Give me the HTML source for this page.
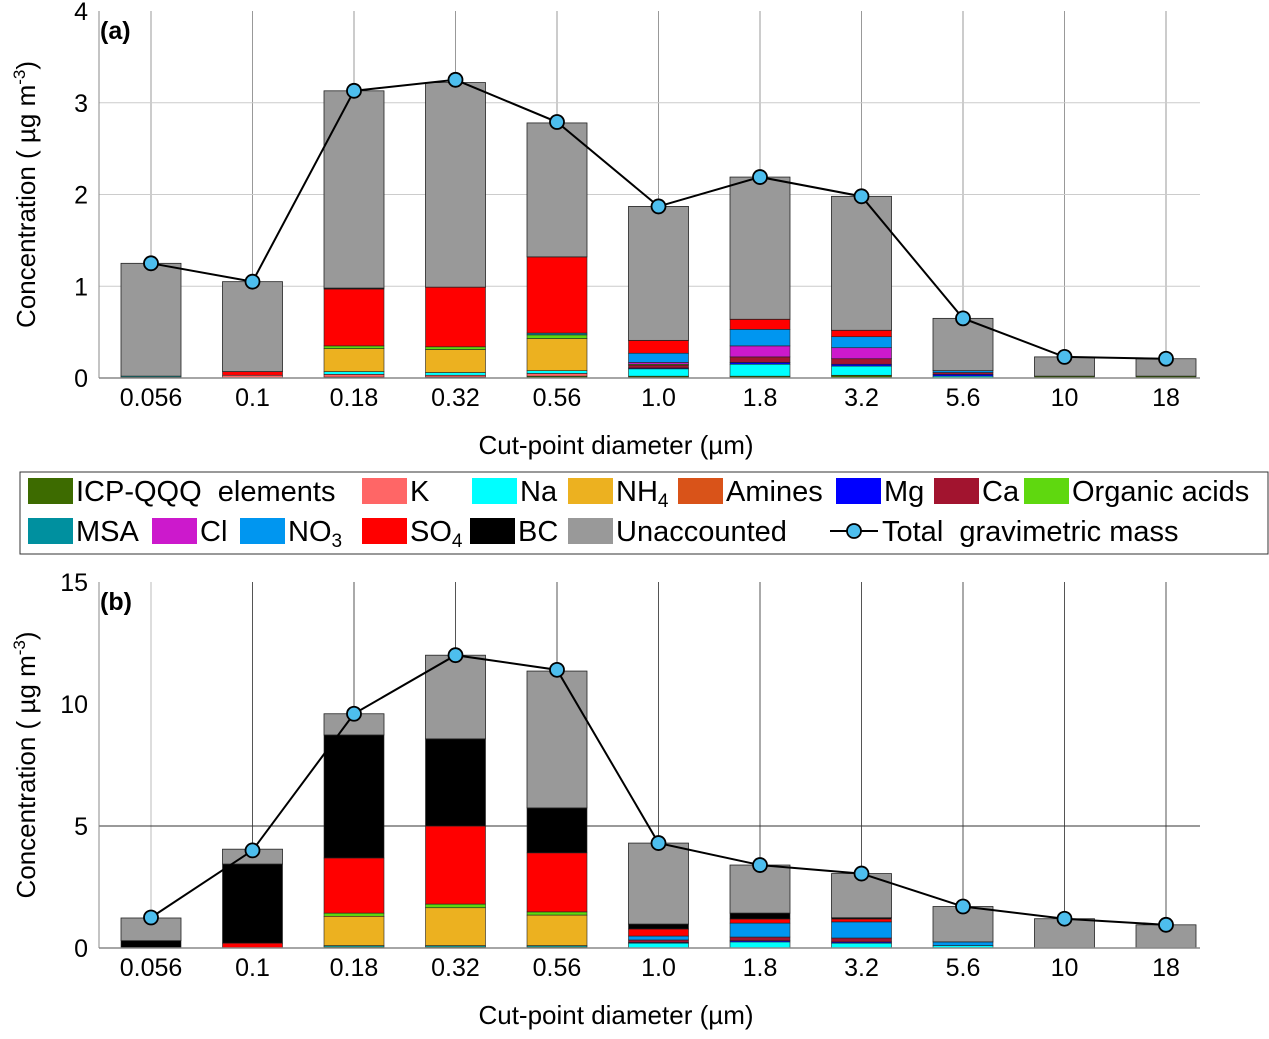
<!DOCTYPE html>
<html><head><meta charset="utf-8"><style>
body{margin:0;background:#fff;font-family:"Liberation Sans",sans-serif;}
svg text{font-family:"Liberation Sans",sans-serif;}
</style></head><body>
<svg id="chart" width="1269" height="1034" viewBox="0 0 1269 1034" xmlns="http://www.w3.org/2000/svg"></svg>
<script>
const categories=["0.056","0.1","0.18","0.32","0.56","1.0","1.8","3.2","5.6","10","18"];
const componentNames=["ICP-QQQ elements","K","Na","NH4","Amines","Mg","Ca","Organic acids","MSA","Cl","NO3","SO4","BC","Unaccounted"];
const componentColors=["#3d6b00","#ff6666","#00ffff","#ecb120","#d95319","#0000ff","#a2142f","#5fd80f","#00909f","#cc19cc","#0096f0","#ff0000","#000000","#999999"];
// panel a component values (rows = components, cols = categories)
const aICP=[0.01,0,0.01,0.01,0.02,0.02,0.02,0.03,0,0.02,0.02];
const aK=[0,0.03,0.03,0.02,0.03,0,0,0,0,0,0];
const aNa=[0.01,0,0.03,0.03,0.03,0.08,0.13,0.1,0.02,0,0];
const aNH4=[0,0,0.25,0.25,0.35,0,0,0,0,0,0];
const aAmines=[0,0,0,0,0,0,0,0,0,0,0];
const aMg=[0,0,0,0,0,0.01,0.02,0.02,0.02,0,0];
const aCa=[0,0,0,0,0,0.03,0.06,0.06,0.02,0,0];
const aOrg=[0,0,0.03,0.03,0.04,0.01,0,0,0,0,0];
const aMSA=[0,0,0,0,0.02,0,0,0,0,0,0];
const aCl=[0,0,0,0,0,0.02,0.12,0.12,0,0,0];
const aNO3=[0,0,0,0,0,0.1,0.18,0.12,0.02,0,0];
const aSO4=[0,0.04,0.62,0.65,0.83,0.14,0.11,0.07,0,0,0];
const aBC=[0,0,0.01,0,0,0,0,0,0,0,0];
const aUnacc=[1.23,0.98,2.15,2.23,1.46,1.46,1.55,1.46,0.57,0.21,0.19];
const aTotal=[1.25,1.05,3.13,3.25,2.79,1.87,2.19,1.98,0.65,0.23,0.21];
// panel b
const bICP=[0,0,0.05,0.05,0.05,0,0,0,0,0,0];
const bK=[0,0,0,0,0,0,0,0,0,0,0];
const bNa=[0,0,0.05,0.05,0.05,0.2,0.25,0.2,0.1,0,0];
const bNH4=[0,0,1.2,1.55,1.25,0,0,0,0,0,0];
const bAmines=[0,0,0,0,0,0,0,0,0,0,0];
const bMg=[0,0,0,0,0,0.03,0.05,0.05,0,0,0];
const bCa=[0,0,0,0,0,0.1,0.15,0.16,0,0,0];
const bOrg=[0,0,0.13,0.15,0.13,0,0,0,0,0,0];
const bMSA=[0,0,0,0,0,0,0,0,0,0,0];
const bCl=[0,0,0,0,0,0,0,0,0,0,0];
const bNO3=[0,0,0,0,0,0.16,0.57,0.66,0.15,0,0];
const bSO4=[0,0.2,2.26,3.2,2.42,0.29,0.17,0.12,0,0,0];
const bBC=[0.3,3.24,5.04,3.57,1.84,0.2,0.24,0.05,0,0,0];
const bUnacc=[0.93,0.61,0.87,3.43,5.61,3.32,1.97,1.81,1.45,1.2,0.95];
const bTotal=[1.25,4.0,9.6,12.0,11.4,4.3,3.4,3.05,1.7,1.2,0.95];
const aTicks=[0,1,2,3,4];
const bTicks=[0,5,10,15];

const svg=document.getElementById('chart');
const NS="http://www.w3.org/2000/svg";
function el(tag,attrs,parent){const e=document.createElementNS(NS,tag);for(const k in attrs)e.setAttribute(k,attrs[k]);(parent||svg).appendChild(e);return e;}
const x0=99,x1=1200;
function xc(i){return 151+i*101.5;}
function drawPanel(p){
  const g=el('g',{});
  
  
  const y=v=>p.yb-(v/p.max)*(p.yb-p.yt);
  categories.forEach((c,i)=>{const l=el('line',{x1:xc(i),x2:xc(i),y1:p.yt,y2:p.yb,stroke:p.vgrid(i),'stroke-width':1},g);
    });
  p.ticks.forEach(t=>{if(t>0&&t<p.max&&p.hgrid(t)){const l=el('line',{x1:x0,x2:x1,y1:y(t),y2:y(t),stroke:p.hcol,'stroke-width':1},g);
    }});
  categories.forEach((c,i)=>{let acc=0;
    p.data.forEach((arr,k)=>{const v=arr[i];if(v<=0)return;
      const r=el('rect',{x:xc(i)-30,y:y(acc+v),width:60,height:y(acc)-y(acc+v),fill:componentColors[k],stroke:'#222','stroke-width':k==13?0.8:0.6},g);
      
      
      acc+=v;});
  });
  el('line',{x1:x0,x2:x1,y1:p.yb,y2:p.yb,stroke:'#888','stroke-width':1.5},g);
  el('line',{x1:x0,x2:x0,y1:p.yt,y2:p.yb,stroke:'#888','stroke-width':1},g);
  p.ticks.forEach(t=>{const tx=el('text',{x:88,y:y(t)+9,'text-anchor':'end','font-size':25},g);tx.textContent=t;
    });
  categories.forEach((c,i)=>{const tx=el('text',{x:xc(i),y:p.yb+28,'text-anchor':'middle','font-size':25},g);tx.textContent=c;
    });
  const pts=p.total.map((v,i)=>xc(i)+','+y(v)).join(' ');
  const pl=el('polyline',{points:pts,fill:'none',stroke:'#000','stroke-width':2},g);
  
  p.total.forEach((v,i)=>{const cc=el('circle',{cx:xc(i),cy:y(v),r:7,fill:'#4dbeee',stroke:'#000','stroke-width':1.8},g);
    });
  const lab=el('text',{x:100,y:p.yt+28,'font-size':25,'font-weight':'bold'},g);lab.textContent=p.label;
  
  const xt=el('text',{x:616,y:p.yb+76,'text-anchor':'middle','font-size':26,'xml:space':'preserve'},g);xt.textContent='Cut-point  diameter (µm)';
  
  const yt=el('text',{transform:`translate(35,${(p.yt+p.yb)/2}) rotate(-90)`,'text-anchor':'middle','font-size':26},g);
  yt.innerHTML='Concentration ( µg m<tspan dy="-10" font-size="17">-3</tspan><tspan dy="10">)</tspan>';
  
}
drawPanel({name:'panel-a',label:'(a)',yt:11,yb:378,max:4,ticks:aTicks,total:aTotal,
  data:[aICP,aK,aNa,aNH4,aAmines,aMg,aCa,aOrg,aMSA,aCl,aNO3,aSO4,aBC,aUnacc],
  vgrid:i=>'#999',hgrid:t=>true,hcol:'#ccc'});
drawPanel({name:'panel-b',label:'(b)',yt:582,yb:948,max:15,ticks:bTicks,total:bTotal,
  data:[bICP,bK,bNa,bNH4,bAmines,bMg,bCa,bOrg,bMSA,bCl,bNO3,bSO4,bBC,bUnacc],
  vgrid:i=>i==0?'#bbb':'#555',hgrid:t=>t==5,hcol:'#333'});
const lg=el('g',{});

el('rect',{x:20,y:472,width:1248,height:82,fill:'#fff',stroke:'#333','stroke-width':1},lg);
const legRows=[
 [[0,28,'ICP-QQQ&#160;&#160;elements'],[1,362,'K'],[2,472,'Na'],[3,568,'NH<tspan dy="6" font-size="19">4</tspan>'],[4,678,'Amines'],[5,836,'Mg'],[6,934,'Ca'],[7,1024,'Organic acids']],
 [[8,28,'MSA'],[9,152,'Cl'],[10,240,'NO<tspan dy="6" font-size="19">3</tspan>'],[11,362,'SO<tspan dy="6" font-size="19">4</tspan>'],[12,470,'BC'],[13,568,'Unaccounted']]];
legRows.forEach((row,ri)=>{const cy=ri?531:491;
  row.forEach(([k,x,txt])=>{const s=el('rect',{x:x,y:cy-13,width:45,height:26,fill:componentColors[k]},lg);
    
    const t=el('text',{x:x+48,y:cy+10,'font-size':29},lg);t.innerHTML=txt;
    });});
el('line',{x1:830,x2:878,y1:531,y2:531,stroke:'#000','stroke-width':2},lg);
el('circle',{cx:854,cy:531,r:7,fill:'#4dbeee',stroke:'#000','stroke-width':1.8},lg);
const tl=el('text',{x:882,y:541,'font-size':29},lg);tl.innerHTML='Total&#160;&#160;gravimetric mass';

</script>
</body></html>
